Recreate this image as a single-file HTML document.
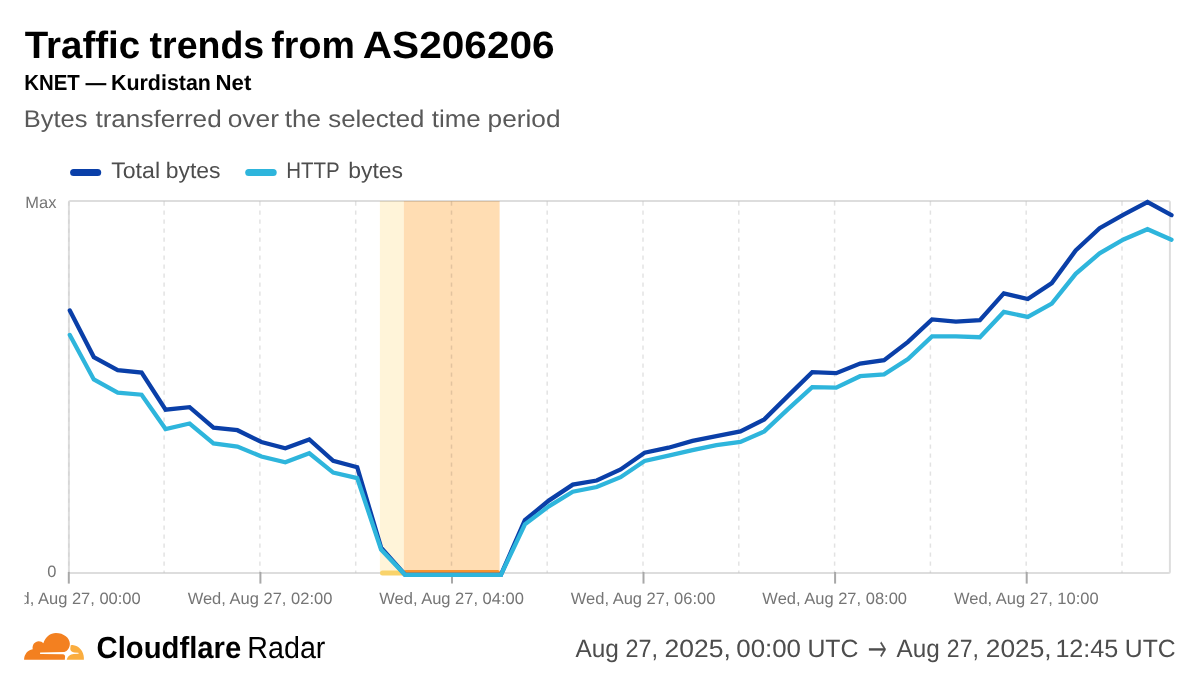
<!DOCTYPE html>
<html lang="en">
<head>
<meta charset="utf-8">
<title>Traffic trends from AS206206</title>
<style>
html,body{margin:0;padding:0;background:#fff;}
body{width:1200px;height:687px;overflow:hidden;position:relative;font-family:"Liberation Sans",sans-serif;}
svg{position:absolute;left:0;top:0;display:block;}
text{font-family:"Liberation Sans",sans-serif;text-rendering:geometricPrecision;}
.title{font-size:38px;font-weight:700;fill:#000;}
.sub{font-size:21.8px;font-weight:700;fill:#000;}
.desc{font-size:24px;fill:#595959;}
.leg{font-size:22.5px;fill:#4d4d4d;}
.ax text{font-size:16.5px;fill:#757575;}
.ytick{font-size:16.45px;fill:#757575;}
.grid line{stroke:#000;stroke-opacity:0.115;stroke-width:1.5;stroke-dasharray:4.4 4.6;}
.ticks line{stroke:#a8a8a8;stroke-width:2;}
.brand-b{font-size:30.5px;font-weight:700;fill:#000;}
.brand-r{font-size:30.5px;fill:#000;}
.range{font-size:25px;fill:#4d4d4d;}
.arrow{font-family:"DejaVu Sans",sans-serif;font-weight:200;font-size:37px;fill:#4d4d4d;stroke:#4d4d4d;stroke-width:0.5px;}
</style>
</head>
<body>
<svg width="1200" height="687" viewBox="0 0 1200 687">
<!-- header -->
<text class="title" y="58"><tspan x="24.67" textLength="115.46" lengthAdjust="spacingAndGlyphs">Traffic</tspan> <tspan x="149.54" textLength="114.70" lengthAdjust="spacingAndGlyphs">trends</tspan> <tspan x="271.36" textLength="83.47" lengthAdjust="spacingAndGlyphs">from</tspan> <tspan x="362.74" textLength="191.93" lengthAdjust="spacingAndGlyphs">AS206206</tspan></text>
<text class="sub" y="90"><tspan x="24.23" textLength="55.59" lengthAdjust="spacingAndGlyphs">KNET</tspan> <tspan x="85.60" textLength="20.80" lengthAdjust="spacingAndGlyphs">—</tspan> <tspan x="110.97" textLength="99.96" lengthAdjust="spacingAndGlyphs">Kurdistan</tspan> <tspan x="215.51" textLength="35.86" lengthAdjust="spacingAndGlyphs">Net</tspan></text>
<text class="desc" y="127"><tspan x="23.71" textLength="63.71" lengthAdjust="spacingAndGlyphs">Bytes</tspan> <tspan x="95.40" textLength="126.28" lengthAdjust="spacingAndGlyphs">transferred</tspan> <tspan x="227.69" textLength="51.24" lengthAdjust="spacingAndGlyphs">over</tspan> <tspan x="284.71" textLength="36.15" lengthAdjust="spacingAndGlyphs">the</tspan> <tspan x="328.28" textLength="96.18" lengthAdjust="spacingAndGlyphs">selected</tspan> <tspan x="431.71" textLength="48.94" lengthAdjust="spacingAndGlyphs">time</tspan> <tspan x="487.61" textLength="72.88" lengthAdjust="spacingAndGlyphs">period</tspan></text>
<!-- legend -->
<line x1="73.6" y1="172.4" x2="97.7" y2="172.4" stroke="#0a3fa8" stroke-width="7" stroke-linecap="round"/>
<text class="leg" y="178"><tspan x="111.18" textLength="48.87" lengthAdjust="spacingAndGlyphs">Total</tspan> <tspan x="165.72" textLength="54.81" lengthAdjust="spacingAndGlyphs">bytes</tspan></text>
<line x1="248.7" y1="172.4" x2="273.2" y2="172.4" stroke="#2eb5dc" stroke-width="7" stroke-linecap="round"/>
<text class="leg" y="178"><tspan x="286.13" textLength="53.14" lengthAdjust="spacingAndGlyphs">HTTP</tspan> <tspan x="348.27" textLength="54.81" lengthAdjust="spacingAndGlyphs">bytes</tspan></text>
<!-- chart -->
<rect x="379.9" y="201" width="24" height="371.7" fill="#fff4d9"/>
<rect x="403.85" y="201" width="95.75" height="371.7" fill="#ffddb3"/>
<g class="grid">
<line x1="68.9" y1="201.4" x2="68.9" y2="572.5" style="stroke-opacity:0.04" />
<line x1="164.1" y1="201.4" x2="164.1" y2="572.5" />
<line x1="259.9" y1="201.4" x2="259.9" y2="572.5" />
<line x1="355.7" y1="201.4" x2="355.7" y2="572.5" />
<line x1="451.5" y1="201.4" x2="451.5" y2="572.5" />
<line x1="547.2" y1="201.4" x2="547.2" y2="572.5" />
<line x1="643.0" y1="201.4" x2="643.0" y2="572.5" />
<line x1="738.8" y1="201.4" x2="738.8" y2="572.5" />
<line x1="834.6" y1="201.4" x2="834.6" y2="572.5" />
<line x1="930.4" y1="201.4" x2="930.4" y2="572.5" />
<line x1="1026.2" y1="201.4" x2="1026.2" y2="572.5" />
<line x1="1122.0" y1="201.4" x2="1122.0" y2="572.5" />
</g>
<rect x="68.9" y="201" width="1101" height="372" rx="1.5" fill="none" stroke="#000" stroke-opacity="0.135" stroke-width="2"/>
<g class="ticks">
<line x1="68.8" y1="572" x2="68.8" y2="583.6" />
<line x1="260.4" y1="572" x2="260.4" y2="583.6" />
<line x1="452.0" y1="572" x2="452.0" y2="583.6" />
<line x1="643.5" y1="572" x2="643.5" y2="583.6" />
<line x1="835.1" y1="572" x2="835.1" y2="583.6" />
<line x1="1026.7" y1="572" x2="1026.7" y2="583.6" />
</g>
<line x1="382.5" y1="573" x2="404" y2="573" stroke="#f9d36b" stroke-width="5" stroke-linecap="round"/>
<line x1="406" y1="572.5" x2="497.5" y2="572.5" stroke="#f6922e" stroke-width="5" stroke-linecap="round"/>
<text class="ytick" x="56.4" y="208" text-anchor="end">Max</text>
<text class="ytick" x="56.4" y="577" text-anchor="end">0</text>
<svg x="24.5" y="585" width="1176" height="30" viewBox="24.5 585 1176 30" overflow="hidden">
<g class="ax">
<text x="68.4" y="604" text-anchor="middle">Wed, Aug 27, 00:00</text>
<text x="260.0" y="604" text-anchor="middle">Wed, Aug 27, 02:00</text>
<text x="451.6" y="604" text-anchor="middle">Wed, Aug 27, 04:00</text>
<text x="643.1" y="604" text-anchor="middle">Wed, Aug 27, 06:00</text>
<text x="834.7" y="604" text-anchor="middle">Wed, Aug 27, 08:00</text>
<text x="1026.3" y="604" text-anchor="middle">Wed, Aug 27, 10:00</text>
</g>
</svg>
<polyline points="69.8,310.5 93.8,357.1 117.7,370.1 141.6,372.6 165.6,409.7 189.6,407.2 213.5,427.7 237.4,430.2 261.4,442.0 285.3,448.3 309.3,439.5 333.2,460.8 357.2,467.2 381.1,547.7 405.1,574.8 429.1,574.8 453.0,574.8 476.9,574.8 500.9,574.8 524.9,520.2 548.8,500.6 572.8,484.6 596.7,480.5 620.6,469.5 644.6,452.7 668.5,447.7 692.5,440.9 716.4,436.2 740.4,431.4 764.3,419.4 788.3,395.6 812.2,372.1 836.2,373.2 860.1,363.5 884.1,360.2 908.0,341.9 932.0,319.4 955.9,321.7 979.9,320.2 1003.8,293.4 1027.8,299.0 1051.8,283.1 1075.7,250.5 1099.6,228.2 1123.6,214.6 1147.5,202.0 1171.5,215.1" fill="none" stroke="#0a3fa8" stroke-width="4.3" stroke-linejoin="miter" stroke-linecap="round"/>
<polyline points="69.8,335.0 93.8,379.4 117.7,392.7 141.6,394.7 165.6,429.0 189.6,423.5 213.5,443.5 237.4,446.5 261.4,456.5 285.3,462.3 309.3,453.3 333.2,472.6 357.2,478.1 381.1,549.5 405.1,574.8 429.1,574.8 453.0,574.8 476.9,574.8 500.9,574.8 524.9,524.4 548.8,506.4 572.8,491.7 596.7,487.0 620.6,477.2 644.6,461.0 668.5,455.7 692.5,450.2 716.4,445.2 740.4,441.9 764.3,431.4 788.3,408.9 812.2,387.1 836.2,387.7 860.1,376.2 884.1,374.3 908.0,359.0 932.0,336.4 955.9,336.4 979.9,337.2 1003.8,311.9 1027.8,316.9 1051.8,303.6 1075.7,273.8 1099.6,253.3 1123.6,239.5 1147.5,229.2 1171.5,239.7" fill="none" stroke="#2eb5dc" stroke-width="4.3" stroke-linejoin="miter" stroke-linecap="round"/>
<!-- footer -->
<g id="logo" transform="translate(20,628) scale(0.058333)">
<path d="M70,545 C70,460 130,375 218,365 C205,290 255,228 320,228 C355,228 385,245 400,262 C435,150 520,85 615,85 C750,85 855,170 855,270 C855,330 815,400 760,410 L350,420 C340,420 340,447 350,447 L735,448 C765,448 778,475 772,500 L768,545 Z" fill="#f38020"/>
<path d="M868,300 C868,290 880,288 900,290 C1010,300 1095,400 1095,510 L1095,545 L800,545 C815,490 860,448 920,445 L1000,440 C1008,440 1008,424 1000,424 L930,420 C890,415 862,390 862,360 Z" fill="#faad3f"/>
</g>
<text class="brand-b" y="658"><tspan x="96.60" textLength="144.70" lengthAdjust="spacingAndGlyphs">Cloudflare</tspan></text>
<text class="brand-r" y="658"><tspan x="247.35" textLength="78.03" lengthAdjust="spacingAndGlyphs">Radar</tspan></text>
<text class="range" y="657"><tspan x="575.45" textLength="43.42" lengthAdjust="spacingAndGlyphs">Aug</tspan> <tspan x="625.52" textLength="32.58" lengthAdjust="spacingAndGlyphs">27,</tspan> <tspan x="664.57" textLength="66.31" lengthAdjust="spacingAndGlyphs">2025,</tspan> <tspan x="736.29" textLength="64.72" lengthAdjust="spacingAndGlyphs">00:00</tspan> <tspan x="807.38" textLength="51.06" lengthAdjust="spacingAndGlyphs">UTC</tspan></text>
<text class="arrow" x="867.8" y="660.9" textLength="19" lengthAdjust="spacingAndGlyphs">→</text>
<text class="range" y="657"><tspan x="896.45" textLength="43.21" lengthAdjust="spacingAndGlyphs">Aug</tspan> <tspan x="946.84" textLength="32.03" lengthAdjust="spacingAndGlyphs">27,</tspan> <tspan x="985.88" textLength="65.78" lengthAdjust="spacingAndGlyphs">2025,</tspan> <tspan x="1055.38" textLength="62.97" lengthAdjust="spacingAndGlyphs">12:45</tspan> <tspan x="1124.79" textLength="50.85" lengthAdjust="spacingAndGlyphs">UTC</tspan></text>
</svg>
</body>
</html>
